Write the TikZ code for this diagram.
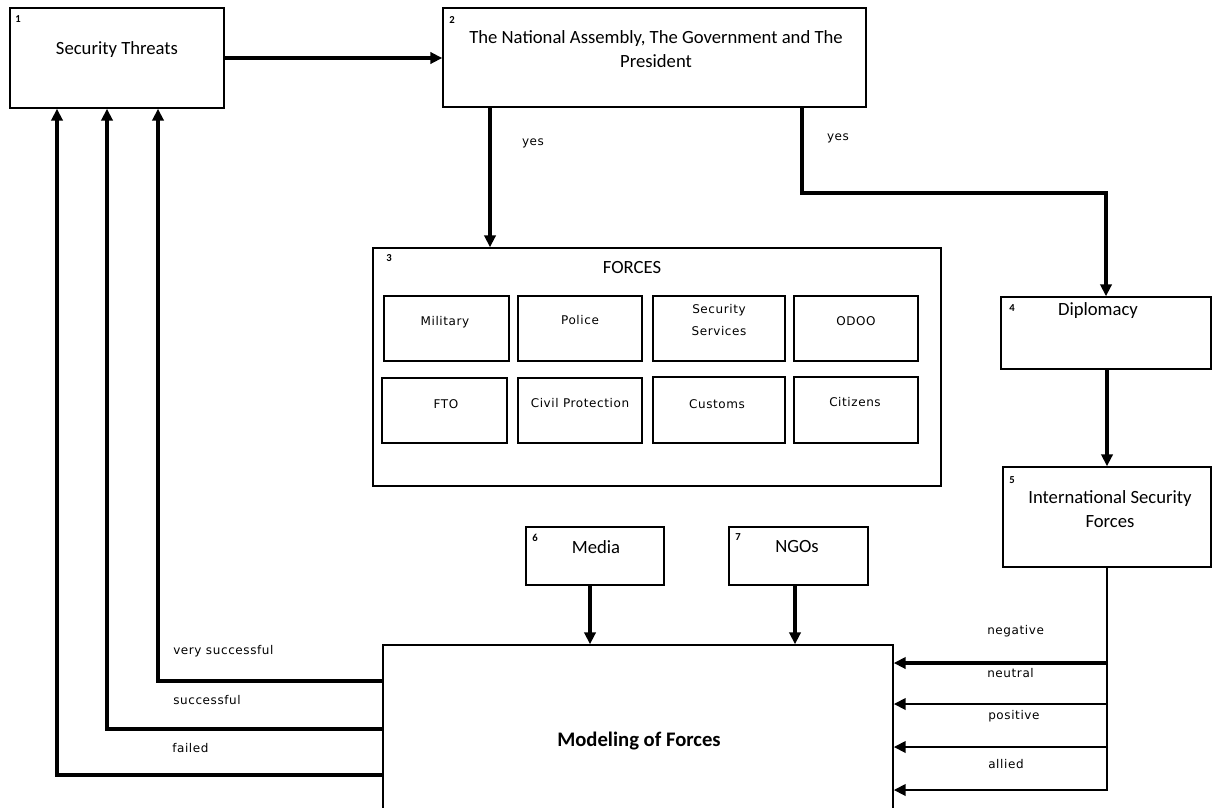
\documentclass[tikz,border=0pt]{standalone}
\usepackage{fontspec}
\setmainfont{Carlito}
\newfontfamily\labelfont[LetterSpace=5]{DejaVu Sans}
\usetikzlibrary{arrows.meta, fit, positioning}

\tikzset{
    box/.style={draw, line width=1.1pt, inner sep=0pt},
    txt/.style={font=\fontsize{14}{18}\selectfont, align=center, inner sep=0pt},
    small/.style={font=\labelfont\fontsize{9}{16}\selectfont, align=center, inner sep=0pt},
    num/.style={font=\bfseries\fontsize{8}{9}\selectfont, inner sep=0pt},
    conn/.style={line width=2.5pt, -{Triangle[length=9pt,width=8.5pt]}},
}

\begin{document}
\begin{tikzpicture}[x=0.75pt, y=-0.75pt]
    \useasboundingbox (0,0) rectangle (1212,807);

    % Security threats
    \node[box, fit={(10,8) (224,108)}] (threats) {};
    \node[num] (n1) at (18,19) {1};
    \node[txt] (threatsT) at (117,50) {Security Threats};

    % Assembly, government, president
    \node[box, fit={(443,8) (866,107)}] (assembly) {};
    \node[num] (n2) at (452,20) {2};
    \node[txt] (assemblyT) at (656,49) {The National Assembly, The Government and The\\President};

    % Forces with its members
    \node[box, fit={(373,248) (941,486)}] (forces) {};
    \node[num] (n3) at (389,258) {3};
    \node[txt] (forcesT) at (632,268) {FORCES};

    \node[box, fit={(384,296) (509,361)}] (military) {};
    \node[small] (militaryT) at (445,322) {Military};
    \node[box, fit={(518,296) (642,361)}] (police) {};
    \node[small] (policeT) at (580,320) {Police};
    \node[box, fit={(653,296) (785,361)}] (secserv) {};
    \node[small] (secservT) at (719,320) {Security\\Services};
    \node[box, fit={(794,296) (918,361)}] (odoo) {};
    \node[small] (odooT) at (856,321) {ODOO};

    \node[box, fit={(382,378) (507,443)}] (fto) {};
    \node[small] (ftoT) at (446,404) {FTO};
    \node[box, fit={(518,378) (642,443)}] (civil) {};
    \node[small] (civilT) at (580,403) {Civil Protection};
    \node[box, fit={(653,377) (785,443)}] (customs) {};
    \node[small] (customsT) at (717,404) {Customs};
    \node[box, fit={(794,377) (918,443)}] (citizens) {};
    \node[small] (citizensT) at (855,402) {Citizens};

    % Diplomacy and international forces
    \node[box, fit={(1001,297) (1211,369)}] (diplomacy) {};
    \node[num] (n4) at (1012,308) {4};
    \node[txt] (diplomacyT) at (1098,311) {Diplomacy};

    \node[box, fit={(1003,467) (1211,567)}] (isf) {};
    \node[num] (n5) at (1012,480) {5};
    \node[txt] (isfT) at (1110,509) {International Security\\Forces};

    % Media and NGOs
    \node[box, fit={(526,527) (664,585)}] (media) {};
    \node[num] (n6) at (535,538) {6};
    \node[txt] (mediaT) at (596,547) {Media};

    \node[box, fit={(729,527) (868,585)}] (ngos) {};
    \node[num] (n7) at (738,537) {7};
    \node[txt] (ngosT) at (797,547) {NGOs};

    % Modeling
    \node[box, fit={(383,645) (893,815)}] (modeling) {};
    \node[txt, font=\bfseries\fontsize{15.5}{18}\selectfont] (modelingT) at (639,741) {Modeling of Forces};

    % Arrows from the top
    \draw[conn] (threats.east) -- (threats.east -| assembly.west);
    \draw[conn] (assembly.south -| 490,0) -- (forces.north -| 490,0);
    \node[small] (yes1) at (533,143) {yes};
    \draw[conn] (assembly.south -| 802,0) |- (diplomacy.north |- 0,193) -- (diplomacy.north);
    \node[small] (yes2) at (838,138) {yes};
    \draw[conn] (diplomacy.south -| 1107,0) -- (isf.north -| 1107,0);

    \draw[conn] (media.south -| 590,0) -- (modeling.north -| 590,0);
    \draw[conn] (ngos.south -| 795,0) -- (modeling.north -| 795,0);

    % Relations of the international forces
    \draw[line width=2.2pt] (isf.south -| 1107,0) -- (1107,791);
    \draw[conn, line width=3.2pt] (1108,663) -- (modeling.east |- 0,663);
    \foreach \y in {704,747,790}
        \draw[conn, line width=2.2pt] (1108,\y) -- (modeling.east |- 0,\y);
    \node[small, anchor=west] (negT) at (987,631) {negative};
    \node[small, anchor=west] (neuT) at (987,673) {neutral};
    \node[small, anchor=west] (posT) at (988,716) {positive};
    \node[small, anchor=west] (allT) at (988,764) {allied};

    % Outcomes back to the threats
    \draw[conn] (modeling.west |- 0,681) -| (threats.south -| 158,0);
    \draw[conn] (modeling.west |- 0,729) -| (threats.south -| 107,0);
    \draw[conn] (modeling.west |- 0,775) -| (threats.south -| 57,0);
    \node[small, anchor=west] (vsT) at (173,651) {very successful};
    \node[small, anchor=west] (sT) at (173,700) {successful};
    \node[small, anchor=west] (fT) at (172,748) {failed};
\end{tikzpicture}
\end{document}
